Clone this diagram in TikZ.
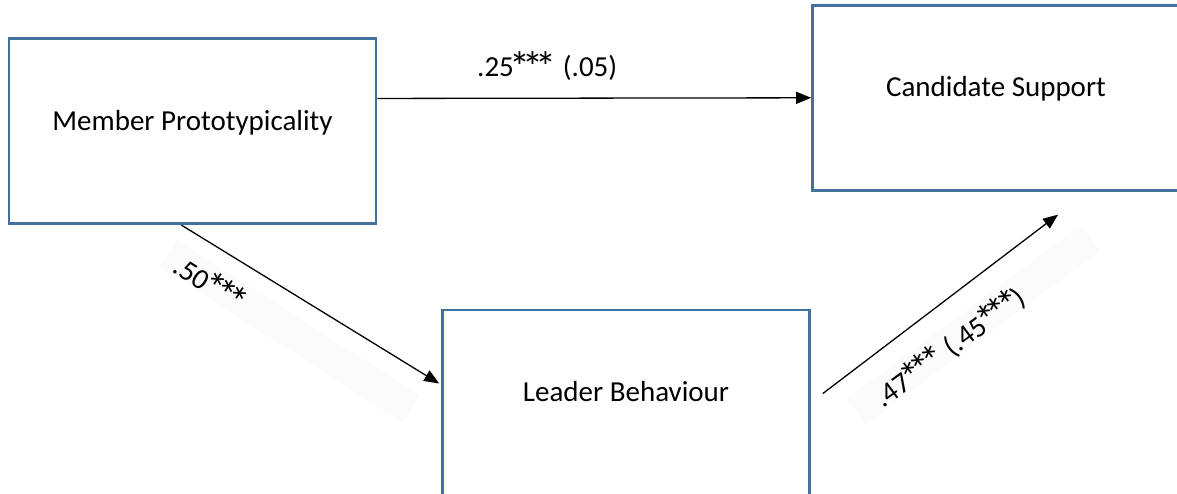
\documentclass[tikz,border=0pt]{standalone}
\usepackage{fontspec}
\usepackage{graphicx}
\setmainfont{Carlito}
\usetikzlibrary{arrows.meta,calc}
\definecolor{boxblue}{RGB}{65,113,156}
\definecolor{bandgray}{RGB}{251,251,251}
% significance star, larger than the font's own asterisk
\newcommand\sigstar{\makebox[13pt]{\raisebox{-5pt}{\scalebox{1.45}{*}}}}
\newcommand\stars{\sigstar\sigstar\sigstar}
\newcommand\gap{\hspace{10pt}}

\begin{document}
\begin{tikzpicture}[x=1pt,y=-1pt,
  every node/.style={font=\fontsize{29}{34}\selectfont},
  varbox/.style={draw=boxblue, line width=2.7pt, minimum width=367pt,
                 minimum height=185pt, inner sep=0pt},
  boxtext/.style={anchor=base, inner sep=0pt},
  link/.style={draw=black, line width=1.3pt,
               -{Triangle[length=15pt,width=12pt]}},
  coef/.style={inner sep=0pt},
  coefband/.style={fill=bandgray, align=left, inner ysep=2pt,
                   text height=28pt, text depth=0pt}]

  \useasboundingbox (0,0) rectangle (1177,493);

  % variables
  \node[varbox] (mp) at (192.5,131.3) {};
  \node[varbox] (cs) at (996,97.8) {};
  \node[varbox] (lb) at (626,402.5) {};
  \node[boxtext] (mpt) at ([yshift=1pt]mp.center) {Member Prototypicality};
  \node[boxtext] (cst) at ([yshift=1pt]cs.center) {Candidate Support};
  \node[boxtext] (lbt) at ([yshift=1pt]lb.center) {Leader Behaviour};

  % coefficient labels
  \node[coef, anchor=base west] (c25) at (477,76) {.25\stars\gap(.05)};
  \node[coefband, rotate=-32.7, inner xsep=13pt, text width=263pt]
       (c50) at (289.5,331) {.50\stars};
  \node[coefband, rotate=36.5, inner xsep=24pt, text width=243pt]
       (c47) at (973.3,325) {.47\stars\gap(.45\stars)};

  % paths
  \draw[link] ([yshift=-61pt]mp.north east) -- (cs.west);
  \draw[link] ([xshift=-11pt]mp.south) -- ([xshift=-2pt,yshift=19pt]lb.west);
  \draw[link] ([xshift=12pt,yshift=9pt]lb.east) -- ([xshift=62pt,yshift=-23pt]cs.south);
\end{tikzpicture}
\end{document}
